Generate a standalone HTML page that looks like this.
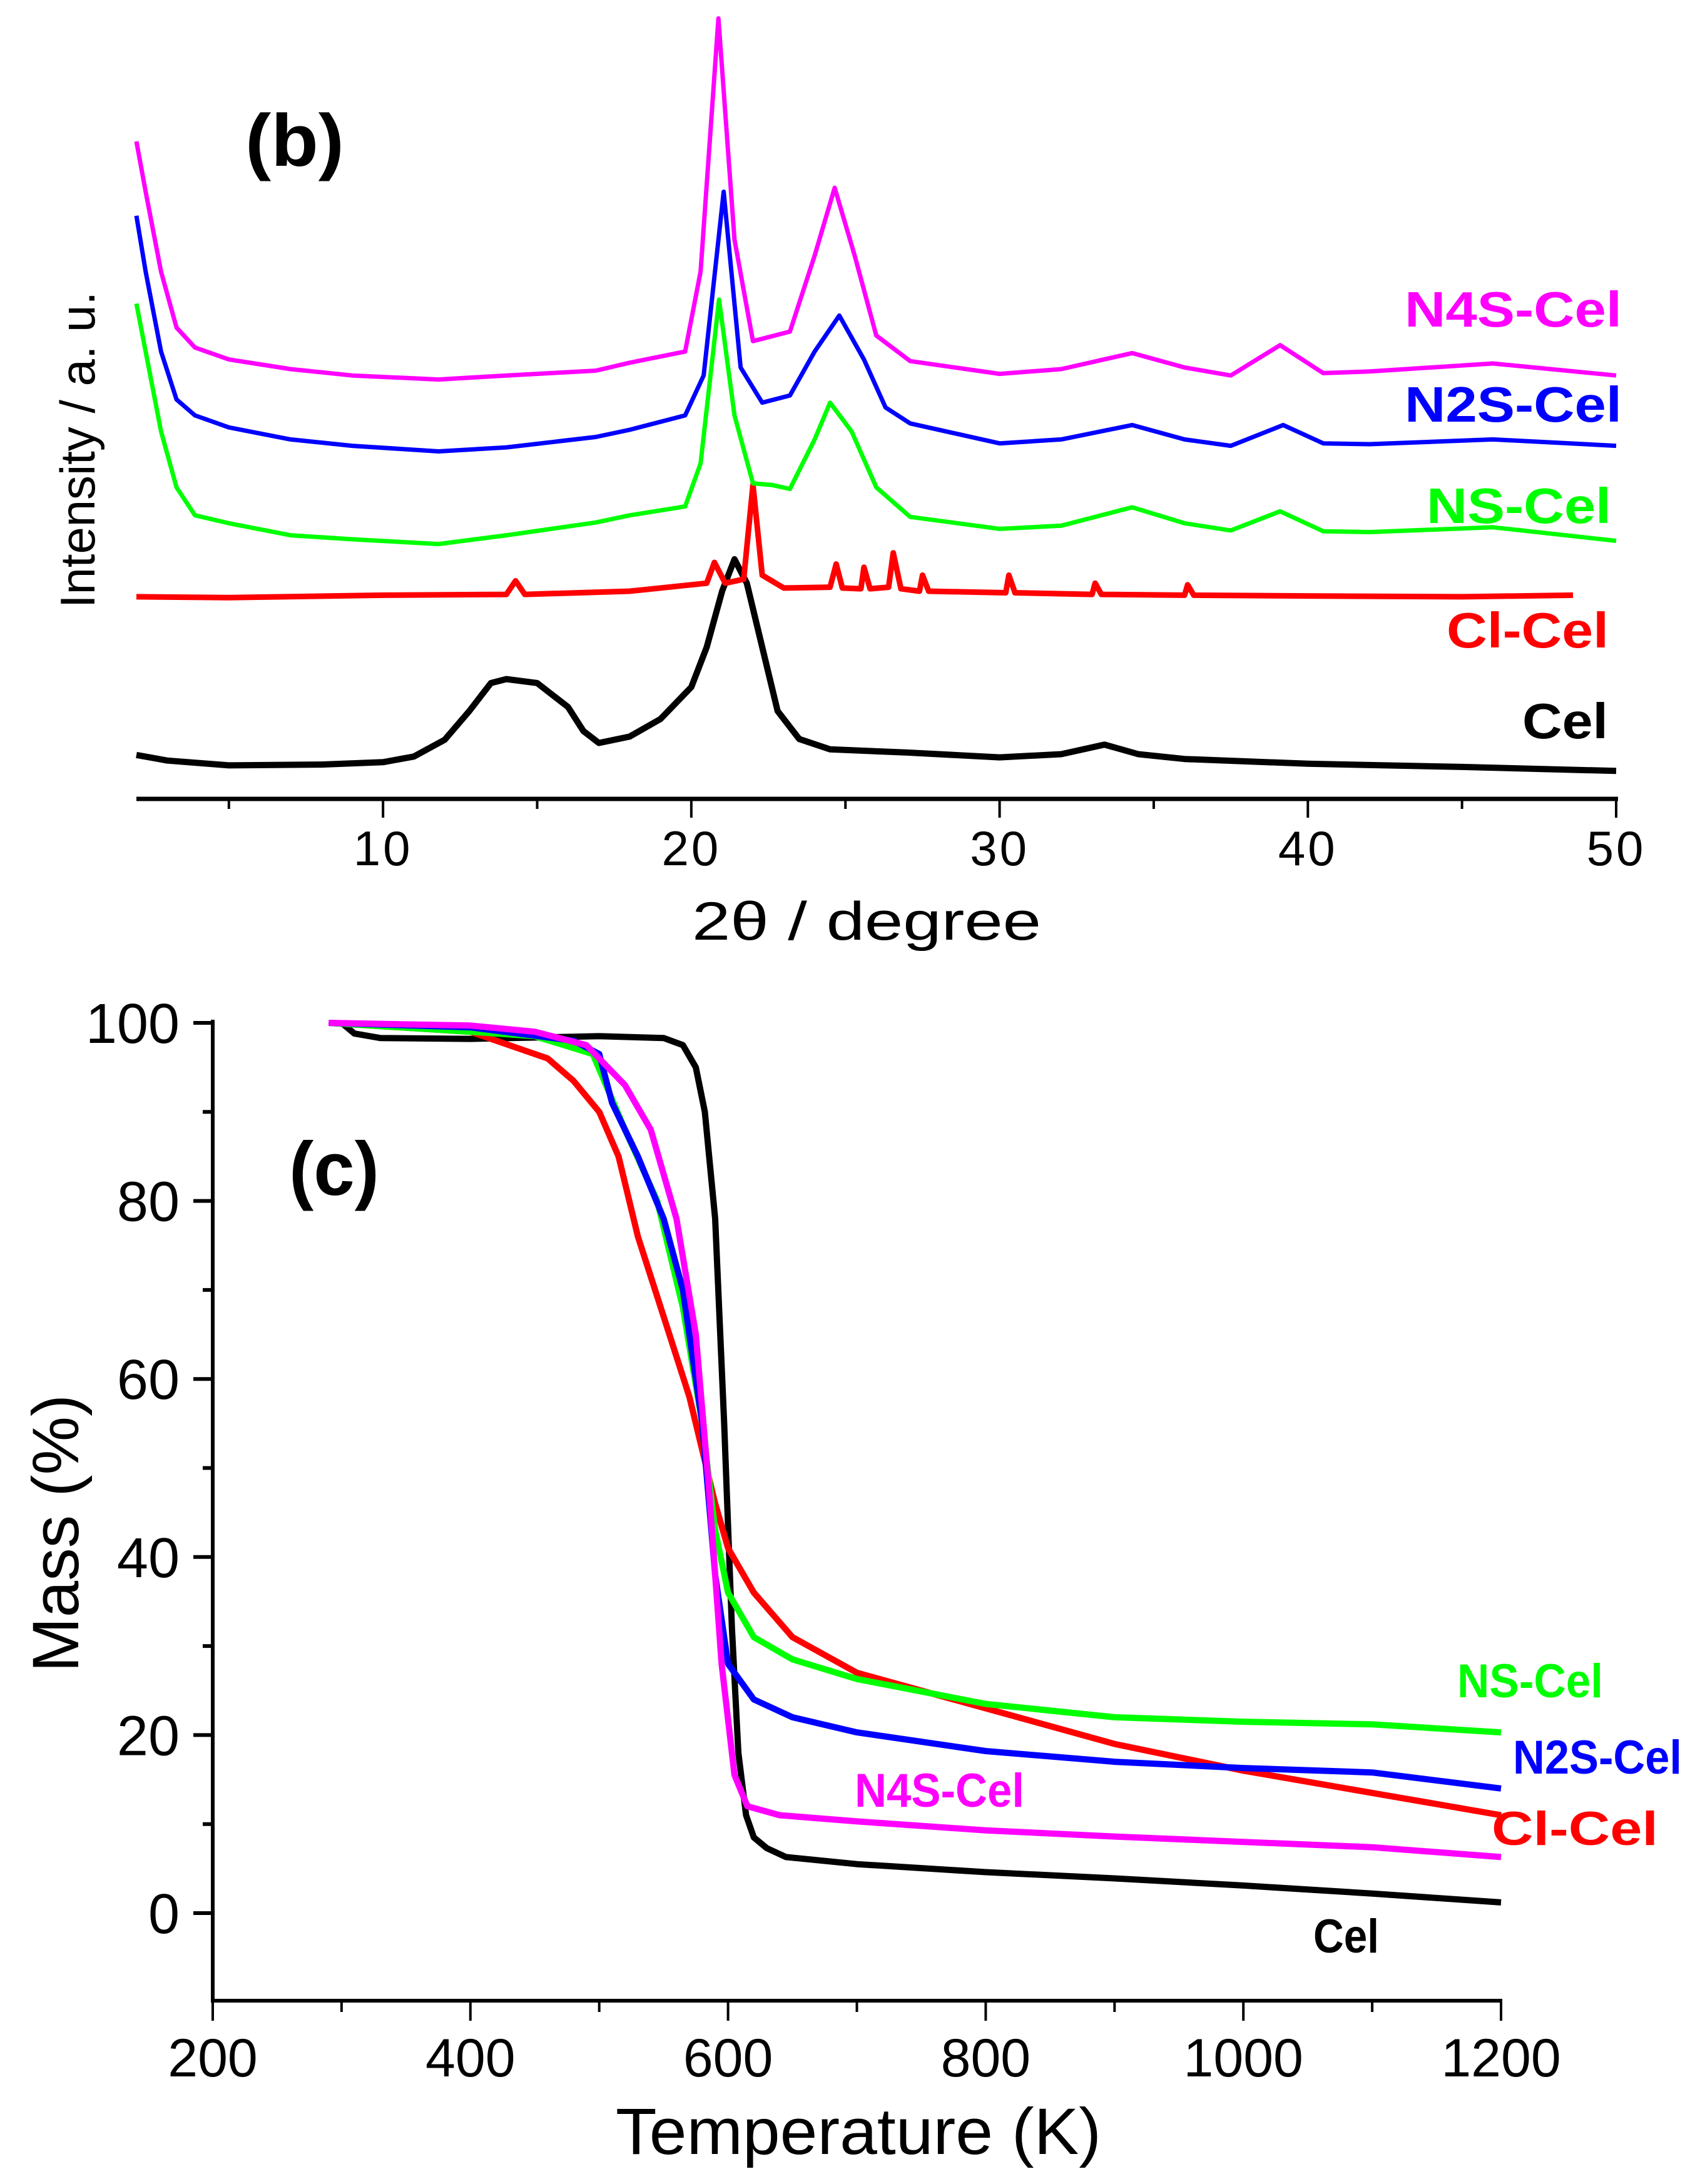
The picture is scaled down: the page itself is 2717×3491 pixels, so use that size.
<!DOCTYPE html>
<html><head><meta charset="utf-8"><style>
html,body{margin:0;padding:0;background:#fff}
svg{display:block}
text{font-family:"Liberation Sans",Arial,sans-serif}
</style></head><body>
<svg id="fig" xmlns="http://www.w3.org/2000/svg" width="2717" height="3491" viewBox="0 0 2717 3491">
<g id="xrd"></g>
<g id="tga"></g>
</svg>
<script>
// ---------- XRD data (2θ in degrees, intensity in a.u.) ----------
const xrdTicks = [10,20,30,40,50];
const xrdMinorTicks = [5,15,25,35,45];
const celX = [2,3,5,8,10,11,12,12.8,13.5,14,15,16,16.5,17,18,19,20,20.5,21,21.4,21.8,22.3,22.8,23.5,24.5,27,30,32,33.4,34.5,36,40,45,50];
const celY = [5.5,4.8,4.2,4.3,4.6,5.3,7.4,11,14.5,15,14.5,11.5,8.5,7,7.8,10,14,19,26,30,27,19,11,7.5,6.2,5.8,5.2,5.6,6.8,5.6,5,4.4,4,3.5];
const clX = [2,5,10,14,14.3,14.6,18,20.5,20.75,21.1,21.7,22,22.3,23,24.5,24.7,24.9,25.5,25.6,25.8,26.4,26.55,26.8,27.4,27.5,27.7,30.2,30.3,30.5,33,33.1,33.3,36,36.1,36.3,40,45,48.6];
const clY = [25.3,25.2,25.5,25.6,27.3,25.6,26,27,29.6,27,27.5,39.3,28,26.4,26.5,29.4,26.4,26.3,29,26.3,26.5,30.8,26.3,26,28,26,25.8,28,25.8,25.6,27,25.6,25.5,26.8,25.5,25.4,25.3,25.5];
const nsX = [2,2.3,2.8,3.3,3.9,5,7,9,11.8,14,16.9,18,19.8,20.3,20.9,21.4,22,22.6,23.2,24,24.5,25.2,26,27.1,30,32,34.3,36,37.5,39.1,40.5,42,46,50];
const nsY = [62,56,46,39,35.5,34.5,33,32.5,31.9,33,34.6,35.5,36.6,42,62.5,48,39.5,39.3,38.8,45,49.6,46,39,35.3,33.8,34.2,36.5,34.5,33.6,36,33.5,33.4,34,32.3];
const n2sX = [2,2.3,2.8,3.3,3.9,5,7,9,11.8,14,16.9,18,19.8,20.4,21.05,21.6,22.3,23.2,24,24.8,25.6,26.3,27.1,30,32,34.3,36,37.5,39.2,40.5,42,46,50];
const n2sY = [73,66,56,50,48,46.5,45,44.2,43.5,44,45.3,46.2,48,53,76,54,49.6,50.5,56,60.5,55,49,47,44.5,45,46.8,45,44.2,46.8,44.5,44.4,45,44.2];
const n4sX = [2,2.3,2.8,3.3,3.9,5,7,9,11.8,14,16.9,18,19.8,20.3,20.88,21.4,22,23.2,24,24.65,25.3,26,27.1,30,32,34.3,36,37.5,39.1,40.5,42,46,50];
const n4sY = [82.3,76,66,59,56.5,55,53.8,53,52.5,53,53.6,54.6,56,66,97.7,70,57.3,58.5,68,76.5,68,58,54.8,53.2,53.8,55.8,54,53,56.8,53.3,53.5,54.5,53];

// ---------- TGA data (temperature K, mass %) ----------
const tgaXTicks = [200,400,600,800,1000,1200];
const tgaXMinor = [300,500,700,900,1100];
const tgaYTicks = [0,20,40,60,80,100];
const tgaYMinor = [10,30,50,70,90];
const tCelX = [300,310,330,400,500,550,565,575,582,590,597,603,608,614,620,630,645,700,800,900,1000,1100,1200];
const tCelY = [100,98.8,98.3,98.2,98.5,98.3,97.5,95,90,78,55,32,18,11,8.5,7.3,6.3,5.5,4.6,3.9,3.1,2.2,1.2];
const tN4sX = [290,400,450,490,520,540,560,575,585,595,605,615,640,700,800,900,1000,1100,1200];
const tN4sY = [100,99.7,99,97.5,93,88,78,65,48,28,15.5,12,11,10.3,9.3,8.6,8,7.4,6.3];
const tN2sX = [290,400,480,500,510,530,550,565,580,590,600,620,650,700,800,900,1000,1100,1200];
const tN2sY = [100,99.5,98,96.5,91,85,78,70,55,38,28,24,22,20.3,18.2,17,16.3,15.8,14];
const tNsX = [290,400,450,495,520,545,565,580,590,600,620,650,700,800,900,1000,1100,1200];
const tNsY = [100,99,98.5,96.5,88,80,68,55,43,36,31,28.5,26.3,23.5,22,21.5,21.2,20.3];
const tClX = [290,400,440,460,480,500,515,530,550,570,590,600,620,650,700,800,900,1000,1100,1200];
const tClY = [100,99,97,96,93.5,90,85,76,67,58,46,41,36,31,27,23,19,16,13.5,11];

const NS = "http://www.w3.org/2000/svg";
function mk(parent, tag, attrs){const e=document.createElementNS(NS,tag);for(const k in attrs)e.setAttribute(k,attrs[k]);parent.appendChild(e);return e;}

// ---------- XRD panel ----------
const xg = document.getElementById('xrd');
const bx = d => 218 + (d-2)*(2583-218)/48;
const by = v => 1277 - v*12.77;
function xrdLine(xs, ys, color, w, name){
  let d=''; xs.forEach((x,i)=>{d+=(i?'L':'M')+bx(x).toFixed(1)+' '+by(ys[i]).toFixed(1);});
  const p = mk(xg,'path',{d:d,fill:'none',stroke:color,'stroke-width':w,'stroke-linejoin':'round'});
  
  
}
xrdLine(celX, celY, '#000', 10, 'xrd-cel-line');
xrdLine(clX, clY, '#ff0000', 9, 'xrd-cl-cel-line');
xrdLine(nsX, nsY, '#00ff00', 7, 'xrd-ns-cel-line');
xrdLine(n2sX, n2sY, '#0000ff', 7, 'xrd-n2s-cel-line');
xrdLine(n4sX, n4sY, '#ff00ff', 7, 'xrd-n4s-cel-line');
const xax = mk(xg,'line',{x1:218,y1:1277,x2:2586,y2:1277,stroke:'#000','stroke-width':7});
 
xrdTicks.forEach(t=>{
  const l=mk(xg,'line',{x1:bx(t),y1:1277,x2:bx(t),y2:1307,stroke:'#000','stroke-width':4});
   
  const tx=mk(xg,'text',{x:bx(t),y:1383,'font-size':78,'text-anchor':'middle','letter-spacing':4});
  tx.textContent=t;
   
});
xrdMinorTicks.forEach(t=>{
  const l=mk(xg,'line',{x1:bx(t),y1:1277,x2:bx(t),y2:1293,stroke:'#000','stroke-width':4});
   
});
function label(g, x, y, txt, color, size, w, name, anchor, bold, extra){
  const a={x:x,y:y,'font-size':size,fill:color,'text-anchor':anchor||'start'};
  if(bold)a['font-weight']='bold';
  if(w){a.textLength=w;a.lengthAdjust='spacingAndGlyphs';}
  if(extra)for(const k in extra)a[k]=extra[k];
  const t=mk(g,'text',a); t.textContent=txt;
  
  
  return t;
}
label(xg,1106,1502,'2θ / degree','#000',86,558,'xrd-x-axis-title');
label(xg,0,0,'Intensity / a. u.','#000',78,506,'xrd-y-axis-title','middle',false,{transform:'translate(151,719) rotate(-90)'});
label(xg,392,265,'(b)','#000',118,158,'xrd-panel-label','start',true);
label(xg,2245,522,'N4S-Cel','#ff00ff',80,347,'xrd-legend-n4s-cel','start',true);
label(xg,2245,674,'N2S-Cel','#0000ff',80,347,'xrd-legend-n2s-cel','start',true);
label(xg,2280,836,'NS-Cel','#00ff00',80,295,'xrd-legend-ns-cel','start',true);
label(xg,2312,1035,'Cl-Cel','#ff0000',80,259,'xrd-legend-cl-cel','start',true);
label(xg,2433,1180,'Cel','#000',80,137,'xrd-legend-cel','start',true);

// ---------- TGA panel ----------
const tg = document.getElementById('tga');
const tx = T => 340 + (T-200)*(2399-340)/1000;
const ty = m => 3058 - m*14.23;
function tgaLine(xs, ys, color, name){
  let d=''; xs.forEach((x,i)=>{d+=(i?'L':'M')+tx(x).toFixed(1)+' '+ty(ys[i]).toFixed(1);});
  const p = mk(tg,'path',{d:d,fill:'none',stroke:color,'stroke-width':10,'stroke-linejoin':'round'});
  
  
}
tgaLine(tCelX, tCelY, '#000', 'tga-cel-line');
tgaLine(tClX, tClY, '#ff0000', 'tga-cl-cel-line');
tgaLine(tNsX, tNsY, '#00ff00', 'tga-ns-cel-line');
tgaLine(tN2sX, tN2sY, '#0000ff', 'tga-n2s-cel-line');
tgaLine(tN4sX, tN4sY, '#ff00ff', 'tga-n4s-cel-line');
const tya=mk(tg,'line',{x1:340,y1:1630,x2:340,y2:3201,stroke:'#000','stroke-width':6});
 
const txa=mk(tg,'line',{x1:337,y1:3198,x2:2401,y2:3198,stroke:'#000','stroke-width':6});
 
tgaXTicks.forEach(t=>{
  const l=mk(tg,'line',{x1:tx(t),y1:3198,x2:tx(t),y2:3230,stroke:'#000','stroke-width':4});
   
  const s=mk(tg,'text',{x:tx(t),y:3319,'font-size':86,'text-anchor':'middle'}); s.textContent=t;
   
});
tgaXMinor.forEach(t=>{
  const l=mk(tg,'line',{x1:tx(t),y1:3198,x2:tx(t),y2:3216,stroke:'#000','stroke-width':4});
   
});
tgaYTicks.forEach(t=>{
  const l=mk(tg,'line',{x1:309,y1:ty(t),x2:340,y2:ty(t),stroke:'#000','stroke-width':6});
   
  const s=mk(tg,'text',{x:287,y:ty(t)+32,'font-size':90,'text-anchor':'end'}); s.textContent=t;
   
});
tgaYMinor.forEach(t=>{
  const l=mk(tg,'line',{x1:324,y1:ty(t),x2:340,y2:ty(t),stroke:'#000','stroke-width':6});
   
});
label(tg,984,3443,'Temperature (K)','#000',105,776,'tga-x-axis-title');
label(tg,0,0,'Mass (%)','#000',105,444,'tga-y-axis-title','middle',false,{transform:'translate(125,2451) rotate(-90)'});
label(tg,462,1910,'(c)','#000',122,144,'tga-panel-label','start',true);
label(tg,2329,2713,'NS-Cel','#00ff00',76,233,'tga-label-ns-cel','start',true);
label(tg,2418,2835,'N2S-Cel','#0000ff',76,270,'tga-label-n2s-cel','start',true);
label(tg,2384,2949,'Cl-Cel','#ff0000',76,266,'tga-label-cl-cel','start',true);
label(tg,1366,2888,'N4S-Cel','#ff00ff',76,271,'tga-label-n4s-cel','start',true);
label(tg,2099,3121,'Cel','#000',76,105,'tga-label-cel','start',true);
</script>
</body></html>
